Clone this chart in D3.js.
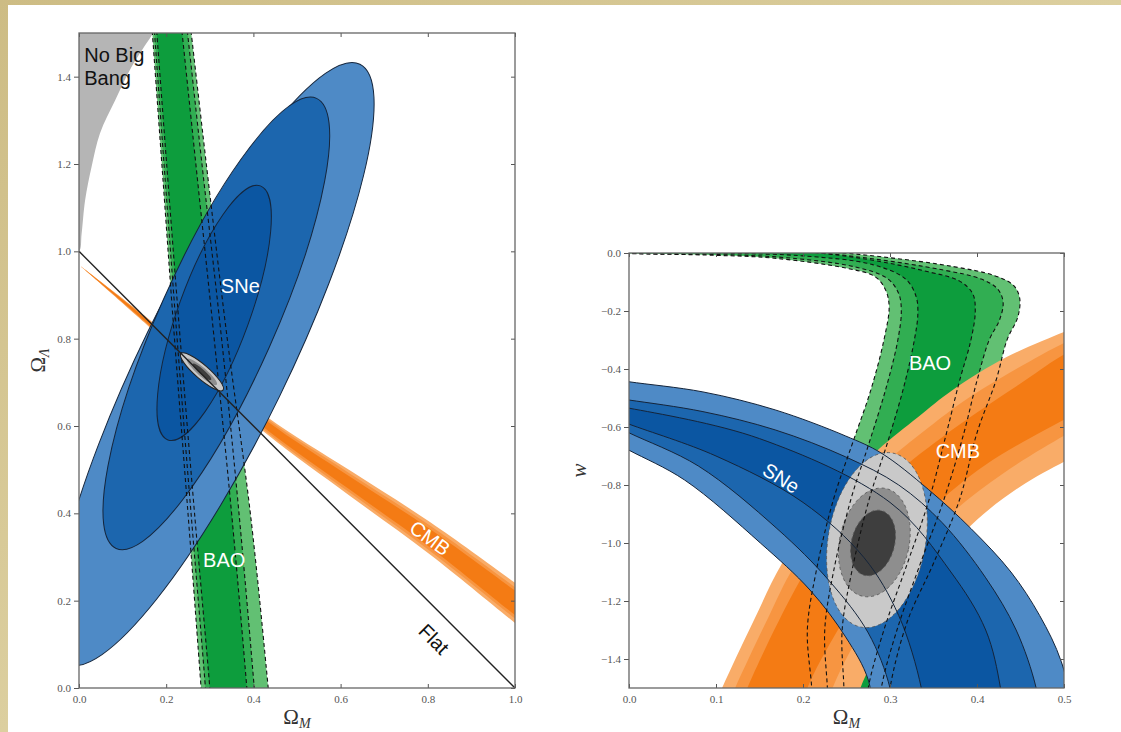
<!DOCTYPE html>
<html>
<head>
<meta charset="utf-8">
<script src="https://cdn.jsdelivr.net/npm/d3@7"></script>
<style>
    body { margin: 0; background: #d6c894; }
    .axis text { font-family: 'Liberation Serif', 'DejaVu Serif', serif; font-size: 11px; fill: #555; }
    .axis line { stroke: #555; }
    .axis .domain { display: none; }
    .lbl { font-family: 'Liberation Sans', Arial, sans-serif; font-size: 20px; }
</style>
</head>
<body>
<div id="chart-area"></div>
<script>
// ---------- left panel: Omega_M vs Omega_Lambda ----------
const leftXTicks = [0, 0.2, 0.4, 0.6, 0.8, 1.0];
const leftYTicks = [0, 0.2, 0.4, 0.6, 0.8, 1.0, 1.2, 1.4];

// "No Big Bang" boundary
const noBigBang = [[0, 1.0], [0.006, 1.04], [0.014, 1.117], [0.029, 1.194], [0.048, 1.27],
    [0.083, 1.346], [0.121, 1.423], [0.167, 1.495], [0.19, 1.53]];

// BAO band: [left, right] Omega_M at each Omega_Lambda
const baoLeftLambda = [1.6, 1.2, 0.8, 0.4, 0.0, -0.1];
const baoLeftOuter = [[0.161, 0.246], [0.19, 0.292], [0.219, 0.34], [0.25, 0.393], [0.28, 0.434], [0.287, 0.443]];
const baoLeftMid   = [[0.166, 0.238], [0.195, 0.282], [0.225, 0.327], [0.257, 0.367], [0.29, 0.402], [0.297, 0.41]];
const baoLeftInner = [[0.171, 0.226], [0.201, 0.268], [0.232, 0.31], [0.265, 0.35], [0.30, 0.385], [0.307, 0.393]];

// CMB band: centre line and half widths
const cmbLeftOm     = [0.004, 0.15, 0.282, 0.43, 0.62, 0.805, 1.0, 1.05];
const cmbLeftCentre = [0.966, 0.845, 0.728, 0.602, 0.47, 0.343, 0.195, 0.157];
const cmbLeftOuter  = [0, 0.008, 0.014, 0.02, 0.029, 0.037, 0.046, 0.048];
const cmbLeftMid    = [0, 0.006, 0.010, 0.015, 0.022, 0.029, 0.036, 0.038];
const cmbLeftInner  = [0, 0.004, 0.007, 0.010, 0.015, 0.021, 0.028, 0.029];

// SNe confidence ellipses (centre, semi axes, tilt in degrees)
const sneLeft = [
    {cx: 0.309, cy: 0.742, a: 0.765, b: 0.168, angle: 64},
    {cx: 0.315, cy: 0.835, a: 0.565, b: 0.133, angle: 66},
    {cx: 0.310, cy: 0.859, a: 0.310, b: 0.082, angle: 70}
];
// combined constraint
const comboLeft = [
    {cx: 0.282, cy: 0.724, a: 0.064, b: 0.016, angle: -41},
    {cx: 0.282, cy: 0.724, a: 0.045, b: 0.010, angle: -41},
    {cx: 0.282, cy: 0.724, a: 0.028, b: 0.006, angle: -41}
];
const flatLine = [[0, 1], [1, 0]];

// ---------- right panel: Omega_M vs w ----------
const rightXTicks = [0, 0.1, 0.2, 0.3, 0.4, 0.5];
const rightYTicks = [0, -0.2, -0.4, -0.6, -0.8, -1.0, -1.2, -1.4];

const baoRightOuterIn  = [[-0.02, 0.0], [0, -0.002], [0.1, -0.008], [0.167, -0.018], [0.249, -0.052], [0.283, -0.082],
    [0.295, -0.128], [0.299, -0.185], [0.293, -0.3], [0.278, -0.472], [0.257, -0.655], [0.235, -0.85],
    [0.215, -1.1], [0.205, -1.3], [0.21, -1.5], [0.212, -1.65]];
const baoRightOuterOut = [[-0.02, 0.03], [0.2, 0.01], [0.29, -0.013], [0.373, -0.047], [0.42, -0.078], [0.442, -0.112],
    [0.449, -0.155], [0.447, -0.22], [0.4345, -0.3], [0.422, -0.438], [0.40, -0.62], [0.38, -0.85],
    [0.35, -1.07], [0.32, -1.27], [0.30, -1.5], [0.295, -1.65]];
const baoRightMidIn    = [[-0.02, 0.01], [0, 0], [0.1, -0.005], [0.18, -0.016], [0.26, -0.048], [0.297, -0.088],
    [0.31, -0.14], [0.313, -0.2], [0.309, -0.3], [0.296, -0.46], [0.276, -0.655], [0.255, -0.85],
    [0.235, -1.1], [0.225, -1.3], [0.228, -1.5], [0.23, -1.65]];
const baoRightMidOut   = [[-0.02, 0.03], [0.2, 0.005], [0.28, -0.02], [0.36, -0.058], [0.405, -0.09], [0.424, -0.125],
    [0.43, -0.17], [0.426, -0.23], [0.414, -0.3], [0.40, -0.44], [0.385, -0.62], [0.362, -0.85],
    [0.335, -1.07], [0.308, -1.3], [0.29, -1.5], [0.285, -1.65]];
const baoRightInnerIn  = [[-0.02, 0.01], [0.1, 0.0], [0.2, -0.01], [0.28, -0.04], [0.318, -0.09], [0.33, -0.15],
    [0.332, -0.21], [0.328, -0.3], [0.316, -0.46], [0.297, -0.655], [0.276, -0.85], [0.256, -1.1],
    [0.245, -1.3], [0.247, -1.5], [0.248, -1.65]];
const baoRightInnerOut = [[-0.02, 0.03], [0.2, 0.005], [0.28, -0.025], [0.34, -0.062], [0.38, -0.097], [0.395, -0.14],
    [0.398, -0.2], [0.393, -0.3], [0.38, -0.44], [0.365, -0.62], [0.345, -0.85], [0.32, -1.07],
    [0.293, -1.3], [0.275, -1.5], [0.27, -1.65]];

const cmbRightOuterA = [[0.09, -1.62], [0.107, -1.5], [0.143, -1.27], [0.176, -1.07], [0.22, -0.88], [0.286, -0.679],
    [0.332, -0.566], [0.372, -0.472], [0.434, -0.359], [0.5, -0.272], [0.52, -0.25]];
const cmbRightOuterB = [[0.255, -1.62], [0.266, -1.5], [0.3, -1.3], [0.35, -1.08], [0.40, -0.92], [0.45, -0.805],
    [0.5, -0.72], [0.52, -0.69]];
const cmbRightMidA   = [[0.105, -1.62], [0.122, -1.5], [0.158, -1.27], [0.19, -1.08], [0.235, -0.9], [0.3, -0.71],
    [0.345, -0.6], [0.385, -0.51], [0.445, -0.4], [0.5, -0.31], [0.52, -0.285]];
const cmbRightMidB   = [[0.222, -1.62], [0.234, -1.5], [0.268, -1.3], [0.32, -1.07], [0.37, -0.9], [0.43, -0.76],
    [0.5, -0.63], [0.52, -0.6]];
const cmbRightInnerA = [[0.12, -1.62], [0.136, -1.5], [0.172, -1.27], [0.205, -1.09], [0.25, -0.92], [0.315, -0.74],
    [0.36, -0.635], [0.4, -0.55], [0.455, -0.44], [0.5, -0.35], [0.52, -0.325]];
const cmbRightInnerB = [[0.193, -1.62], [0.205, -1.5], [0.24, -1.3], [0.29, -1.07], [0.345, -0.89], [0.41, -0.73],
    [0.5, -0.575], [0.52, -0.545]];

const sneROuterTop = [[-0.03, -0.43], [0, -0.444], [0.085, -0.479], [0.168, -0.541], [0.249, -0.631], [0.29, -0.69],
    [0.344, -0.815], [0.393, -0.95], [0.439, -1.1], [0.472, -1.25], [0.497, -1.41], [0.515, -1.65]];
const sneROuterBot = [[-0.03, -0.632], [0, -0.68], [0.064, -0.783], [0.151, -1.0], [0.208, -1.162], [0.249, -1.324],
    [0.275, -1.472], [0.283, -1.65]];
const sneRMidTop   = [[-0.03, -0.495], [0, -0.507], [0.085, -0.547], [0.168, -0.61], [0.249, -0.703], [0.31, -0.80],
    [0.36, -0.93], [0.41, -1.12], [0.445, -1.3], [0.468, -1.5], [0.475, -1.65]];
const sneRMidBot   = [[-0.03, -0.575], [0, -0.62], [0.08, -0.735], [0.17, -0.95], [0.23, -1.13], [0.275, -1.31],
    [0.30, -1.5], [0.306, -1.65]];
const sneRInnerTop = [[-0.03, -0.522], [0, -0.535], [0.15, -0.64], [0.3, -0.86], [0.37, -1.1], [0.41, -1.3],
    [0.427, -1.5], [0.432, -1.65]];
const sneRInnerBot = [[-0.03, -0.555], [0, -0.59], [0.1, -0.70], [0.2, -0.86], [0.27, -1.05], [0.31, -1.25],
    [0.336, -1.5], [0.342, -1.65]];

// combined constraint (centre, semi axes in data units, tilt)
const comboRight = [
    {cx: 0.285, cy: -0.99, rx: 0.056, ry: 0.305, rot: 10},
    {cx: 0.282, cy: -0.998, rx: 0.040, ry: 0.19, rot: 12},
    {cx: 0.2805, cy: -1.0, rx: 0.0247, ry: 0.1155, rot: 15}
];

// ---------- colours ----------
const greens = ['#62c073', '#31ae52', '#0d9d3d'];
const oranges = ['#f9ac68', '#f79541', '#f47b14'];
const blues = ['#4e8ac6', '#1c66ae', '#0b56a2'];
const greys = ['#c9c9c9', '#8e8e8e', '#3e3e3e'];

const width = 1121, height = 732;

const svg = d3.select('#chart-area')
    .append('svg')
    .attr('width', width)
    .attr('height', height);

const defs = svg.append('defs');
const grad = defs.append('linearGradient').attr('id', 'parch').attr('x1', 0).attr('y1', 0).attr('x2', 1).attr('y2', 1);
grad.append('stop').attr('offset', '0%').attr('stop-color', '#cdbc84');
grad.append('stop').attr('offset', '50%').attr('stop-color', '#dccf9f');
grad.append('stop').attr('offset', '100%').attr('stop-color', '#cfc08b');

svg.append('rect').attr('width', width).attr('height', height).attr('fill', 'url(#parch)');
svg.append('rect').attr('x', 8).attr('y', 5).attr('width', width - 8).attr('height', height - 5).attr('fill', '#fff');

// scales
const xL = d3.scaleLinear().domain([0, 1]).range([79, 515]);
const yL = d3.scaleLinear().domain([0, 1.5]).range([688, 33]);
const xR = d3.scaleLinear().domain([0, 0.5]).range([629, 1064]);
const yR = d3.scaleLinear().domain([-1.5, 0]).range([688, 253]);

const clip = (id, xs, ys) => {
    defs.append('clipPath').attr('id', id).append('rect')
        .attr('x', xs.range()[0]).attr('y', ys.range()[1])
        .attr('width', xs.range()[1] - xs.range()[0])
        .attr('height', ys.range()[0] - ys.range()[1]);
    return svg.append('g').attr('clip-path', 'url(#' + id + ')');
};

const drawEllipse = (g, e, xs, ys, fill) => g.append('ellipse')
    .attr('cx', xs(e.cx)).attr('cy', ys(e.cy))
    .attr('rx', xs(e.a) - xs(0)).attr('ry', ys(0) - ys(e.b))
    .attr('transform', 'rotate(' + (-e.angle) + ',' + xs(e.cx) + ',' + ys(e.cy) + ')')
    .attr('fill', fill);

// ===== LEFT PANEL =====
const gL = clip('clipL', xL, yL);
const lineL = d3.line().x(d => xL(d[0])).y(d => yL(d[1])).curve(d3.curveCatmullRom);

// no big bang region
gL.append('path')
    .attr('d', d3.area().x(d => xL(d[0])).y0(d => yL(d[1])).y1(yL(1.6)).curve(d3.curveCatmullRom)(
        [[-0.02, 1.0]].concat(noBigBang)))
    .attr('fill', '#b5b5b5');

// BAO
const baoLevelsL = [baoLeftOuter, baoLeftMid, baoLeftInner];
const baoAreaL = d3.area().y(d => yL(d.l)).x0(d => xL(d.a)).x1(d => xL(d.b)).curve(d3.curveCatmullRom);
baoLevelsL.forEach((lev, i) => {
    const rows = baoLeftLambda.map((l, j) => ({l: l, a: lev[j][0], b: lev[j][1]}));
    gL.append('path').attr('d', baoAreaL(rows)).attr('fill', greens[i]);
});

// CMB
const cmbAreaL = d3.area().x(d => xL(d.om)).y0(d => yL(d.c - d.h)).y1(d => yL(d.c + d.h)).curve(d3.curveCatmullRom);
[cmbLeftOuter, cmbLeftMid, cmbLeftInner].forEach((hw, i) => {
    const rows = cmbLeftOm.map((om, j) => ({om: om, c: cmbLeftCentre[j], h: hw[j]}));
    gL.append('path').attr('d', cmbAreaL(rows)).attr('fill', oranges[i]);
});

// SNe
sneLeft.forEach((e, i) => {
    drawEllipse(gL, e, xL, yL, blues[i]).attr('stroke', '#15263d').attr('stroke-width', 1);
});

// BAO dashed contours over everything
const baoLineL = d3.line().y(d => yL(d[0])).x(d => xL(d[1])).curve(d3.curveCatmullRom);
baoLevelsL.forEach(lev => {
    [0, 1].forEach(k => {
        gL.append('path')
            .attr('d', baoLineL(baoLeftLambda.map((l, j) => [l, lev[j][k]])))
            .attr('fill', 'none').attr('stroke', '#111').attr('stroke-width', 1.1)
            .attr('stroke-dasharray', '4,3');
    });
});

// combined
comboLeft.forEach((e, i) => {
    const el = drawEllipse(gL, e, xL, yL, greys[i]);
    if (i === 0) el.attr('stroke', '#222').attr('stroke-width', 1);
});

// flat universe line
gL.append('path').attr('d', d3.line().x(d => xL(d[0])).y(d => yL(d[1]))(flatLine))
    .attr('stroke', '#222').attr('stroke-width', 1.4).attr('fill', 'none');

// labels
gL.append('text').attr('class', 'lbl').attr('x', xL(0.012)).attr('y', yL(1.433)).attr('fill', '#111').text('No Big');
gL.append('text').attr('class', 'lbl').attr('x', xL(0.012)).attr('y', yL(1.38)).attr('fill', '#111').text('Bang');
gL.append('text').attr('class', 'lbl').attr('x', xL(0.37)).attr('y', yL(0.905)).attr('fill', '#fff')
    .attr('text-anchor', 'middle').text('SNe');
gL.append('text').attr('class', 'lbl').attr('x', xL(0.333)).attr('y', yL(0.277)).attr('fill', '#fff')
    .attr('text-anchor', 'middle').text('BAO');
gL.append('text').attr('class', 'lbl').attr('fill', '#fff').attr('text-anchor', 'middle')
    .attr('transform', 'translate(' + xL(0.805) + ',' + yL(0.343) + ') rotate(36)')
    .attr('dy', '0.35em').text('CMB');
gL.append('text').attr('class', 'lbl').attr('fill', '#111').attr('text-anchor', 'middle')
    .attr('transform', 'translate(' + xL(0.814) + ',' + yL(0.112) + ') rotate(45)')
    .attr('dy', '0.35em').text('Flat');

// ===== RIGHT PANEL =====
const gR = clip('clipR', xR, yR);
const lineR = d3.line().x(d => xR(d[0])).y(d => yR(d[1])).curve(d3.curveCatmullRom);
const band = (a, b) => lineR(a.concat(b.slice().reverse())) + 'Z';

const baoR = [[baoRightOuterIn, baoRightOuterOut], [baoRightMidIn, baoRightMidOut], [baoRightInnerIn, baoRightInnerOut]];
baoR.forEach((p, i) => gR.append('path').attr('d', band(p[0], p[1])).attr('fill', greens[i]));

const cmbR = [[cmbRightOuterA, cmbRightOuterB], [cmbRightMidA, cmbRightMidB], [cmbRightInnerA, cmbRightInnerB]];
cmbR.forEach((p, i) => gR.append('path').attr('d', band(p[0], p[1])).attr('fill', oranges[i]));

const sneR = [[sneROuterTop, sneROuterBot], [sneRMidTop, sneRMidBot], [sneRInnerTop, sneRInnerBot]];
sneR.forEach((p, i) => gR.append('path').attr('d', band(p[0], p[1])).attr('fill', blues[i]));

comboRight.forEach((e, i) => {
    gR.append('ellipse')
        .attr('cx', xR(e.cx)).attr('cy', yR(e.cy))
        .attr('rx', xR(e.rx) - xR(0)).attr('ry', yR(0) - yR(e.ry))
        .attr('transform', 'rotate(' + e.rot + ',' + xR(e.cx) + ',' + yR(e.cy) + ')')
        .attr('fill', greys[i])
        .attr('stroke', '#555').attr('stroke-width', 0.8).attr('stroke-dasharray', '3,3');
});

// contour lines
sneR.forEach(p => p.forEach(edge => {
    gR.append('path').attr('d', lineR(edge)).attr('fill', 'none')
        .attr('stroke', '#14243a').attr('stroke-width', 1);
}));
baoR.forEach(p => p.forEach(edge => {
    gR.append('path').attr('d', lineR(edge)).attr('fill', 'none')
        .attr('stroke', '#111').attr('stroke-width', 1.1).attr('stroke-dasharray', '4,3');
}));

gR.append('text').attr('class', 'lbl').attr('x', xR(0.346)).attr('y', yR(-0.403)).attr('fill', '#fff')
    .attr('text-anchor', 'middle').text('BAO');
gR.append('text').attr('class', 'lbl').attr('x', xR(0.378)).attr('y', yR(-0.707)).attr('fill', '#fff')
    .attr('text-anchor', 'middle').text('CMB');
gR.append('text').attr('class', 'lbl').attr('fill', '#fff').attr('text-anchor', 'middle')
    .attr('transform', 'translate(' + xR(0.175) + ',' + yR(-0.776) + ') rotate(32)')
    .attr('dy', '0.35em').text('SNe');

// ===== AXES =====
const fmt = d3.format('.1f');
const axes = (xs, ys, xt, yt) => {
    const [x0, x1] = xs.range(), [y0, y1] = ys.range();
    svg.append('g').attr('class', 'axis').attr('transform', 'translate(0,' + y0 + ')')
        .call(d3.axisBottom(xs).tickValues(xt).tickSize(-4).tickPadding(7).tickFormat(fmt));
    svg.append('g').attr('class', 'axis').attr('transform', 'translate(0,' + y1 + ')')
        .call(d3.axisTop(xs).tickValues(xt).tickSize(-4).tickFormat(''));
    svg.append('g').attr('class', 'axis').attr('transform', 'translate(' + x0 + ',0)')
        .call(d3.axisLeft(ys).tickValues(yt).tickSize(5).tickPadding(3).tickFormat(fmt));
    svg.append('g').attr('class', 'axis').attr('transform', 'translate(' + x1 + ',0)')
        .call(d3.axisRight(ys).tickValues(yt).tickSize(-4).tickFormat(''));
    svg.append('rect').attr('x', x0).attr('y', y1).attr('width', x1 - x0).attr('height', y0 - y1)
        .attr('fill', 'none').attr('stroke', '#666').attr('stroke-width', 1.3);
};
axes(xL, yL, leftXTicks, leftYTicks);
axes(xR, yR, rightXTicks, rightYTicks);

// axis titles
const mathText = (x, y, main, sub, rot, italicMain) => {
    const t = svg.append('text')
        .attr('transform', 'translate(' + x + ',' + y + ')' + (rot ? ' rotate(' + rot + ')' : ''))
        .attr('text-anchor', 'middle')
        .attr('font-family', "'Liberation Serif', 'DejaVu Serif', serif")
        .attr('fill', '#333');
    t.append('tspan').attr('font-size', 21).attr('font-style', italicMain ? 'italic' : 'normal').text(main);
    if (sub) t.append('tspan').attr('font-size', 14).attr('font-style', 'italic').attr('dy', 4).text(sub);
};
mathText(xL(0.5), 724, 'Ω', 'M');
mathText(xR(0.25), 724, 'Ω', 'M');
mathText(45, yL(0.75), 'Ω', 'Λ', -90);
mathText(586, yR(-0.75), 'w', null, -90, true);
</script>
</body>
</html>
